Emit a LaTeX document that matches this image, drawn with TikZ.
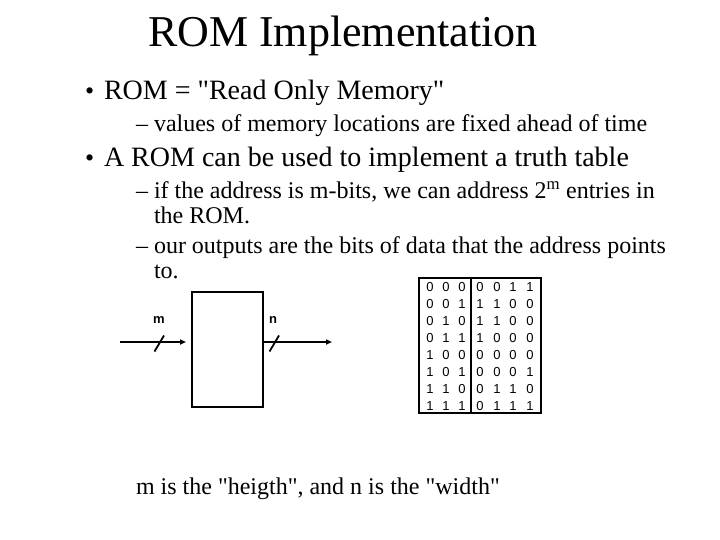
\documentclass[tikz,border=0pt]{standalone}
\usepackage{fontspec}
\setmainfont{Liberation Serif}
\newfontfamily\arialf{Liberation Sans}
\usetikzlibrary{arrows.meta}
\newcommand{\qq}{\textquotedbl}
\begin{document}
\begin{tikzpicture}[x=1pt,y=-1pt,
  txt/.style={anchor=base west,inner sep=0pt,outer sep=0pt},
  ttl/.style={txt,font=\fontsize{44}{48}\selectfont},
  lvone/.style={txt,font=\fontsize{28}{32}\selectfont},
  lvtwo/.style={txt,font=\fontsize{24}{28}\selectfont},
  bul/.style={txt,font=\fontsize{26}{30}\selectfont},
  bus/.style={line width=1.8pt,-{Triangle[length=6pt,width=5pt]}},
  tick/.style={line width=1.8pt},
  buslabel/.style={inner sep=0pt,font=\arialf\bfseries\fontsize{13}{15}\selectfont},
  digit/.style={inner sep=0pt,font=\arialf\fontsize{13}{15}\selectfont},
  frame/.style={draw,line width=2.2pt}]
\useasboundingbox (0,0) rectangle (720,540);
\fill[white] (0,0) rectangle (720,540);
% title
\node[ttl] (title) at (148,47) {ROM Implementation};
% bullets
\node[bul] (b1) at (85,99.5) {•};
\node[lvone] (t1) at (104,100) {ROM = \qq{}Read Only Memory\qq};
\node[lvtwo] (d1) at (136,132) {–};
\node[lvtwo] (t11) at (154,132) {values of memory locations are fixed ahead of time};
\node[bul] (b2) at (85,166.5) {•};
\node[lvone] (t2) at (104,167) {A ROM can be used to implement a truth table};
\node[lvtwo] (d2) at (136,199) {–};
\node[lvtwo] (t21) at (154,199) {if the address is m-bits, we can address 2\textsuperscript{m} entries in};
\node[lvtwo] (t22) at (154,224) {the ROM.};
\node[lvtwo] (d3) at (136,253) {–};
\node[lvtwo] (t23) at (154,253) {our outputs are the bits of data that the address points};
\node[lvtwo] (t24) at (154,278) {to.};
% ROM box
\node[frame,anchor=north west,inner sep=0pt,minimum width=71pt,minimum height=115pt] (rom) at (191,291) {};
\coordinate (in) at (120,342);
\coordinate (out) at (332,342);
\draw[bus,shorten >=5pt] (in) -- (in -| rom.west);
\draw[bus] (in -| rom.east) -- (out);
\draw[tick] (154.5,351.5) -- (164,335.5);
\draw[tick] (269.5,351.5) -- (279,335.5);
\node[buslabel] (mlab) at (159,320) {m};
\node[buslabel] (nlab) at (273,320) {n};
% truth table
\node[frame,anchor=north west,inner sep=0pt,minimum width=122pt,minimum height=135pt] (tbl) at (418,277) {};
\draw[line width=2.2pt] (471,277) -- (471,412);
\foreach \row [count=\i] in {{0,0,0,0,0,1,1},{0,0,1,1,1,0,0},{0,1,0,1,1,0,0},{0,1,1,1,0,0,0},{1,0,0,0,0,0,0},{1,0,1,0,0,0,1},{1,1,0,0,1,1,0},{1,1,1,0,1,1,1}}{
  \foreach \v [count=\j] in \row {
    \pgfmathsetmacro{\cx}{{430,446,462,480,497,513,530}[\j-1]}
    \node[digit] (d-\i-\j) at (\cx,{270+17*\i}) {\v};
  }
}
% note
\node[lvtwo] (note) at (136,494) {m is the \qq{}heigth\qq, and n is the \qq{}width\qq};
\end{tikzpicture}
\end{document}
